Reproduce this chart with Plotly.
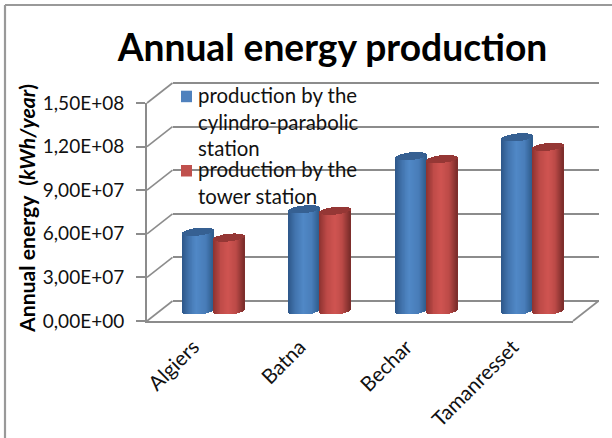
import plotly.graph_objects as go

# Chart data
cities = ["Algiers", "Batna", "Bechar", "Tamanresset"]
cylindro_parabolic = [5.45e7, 7.0e7, 1.065e8, 1.195e8]
tower = [5.05e7, 6.9e7, 1.045e8, 1.13e8]
tick_values = [0, 3e7, 6e7, 9e7, 1.2e8, 1.5e8]
tick_labels = ["0,00E+00", "3,00E+07", "6,00E+07", "9,00E+07", "1,20E+08", "1,50E+08"]
series_names = ["production by the<br>cylindro-parabolic<br>station",
                "production by the<br>tower station"]

W, H = 612, 438
FONT = "Lato"
GRID = "#8c8c8c"

# Pseudo-3D box, in pixels
X0, X1 = 147, 573      # front edge of the floor
Y0, Y1 = 321, 103      # value 0 and value max on the front plane
DX, DY = 25.5, -20     # depth of the box
VMAX = 1.5e8
PX = VMAX / (Y0 - Y1)  # value units per pixel
PAD = 3                # spare pixels that keep the end gridlines from being dropped


def xdom(a, b):
    return [a / W, b / W]


def ydom(bottom, top):
    return [1 - bottom / H, 1 - top / H]


def lerp_color(stops, t):
    for (t0, c0), (t1, c1) in zip(stops, stops[1:]):
        if t <= t1:
            f = (t - t0) / (t1 - t0)
            rgb = [round(c0[i] + (c1[i] - c0[i]) * f) for i in range(3)]
            return f"rgb({rgb[0]},{rgb[1]},{rgb[2]})"
    return f"rgb{stops[-1][1]}"


BLUE = [(-1, (44, 86, 136)), (-0.55, (66, 116, 174)), (-0.05, (80, 136, 198)),
        (0.55, (72, 124, 184)), (1, (46, 92, 140))]
RED = [(-1, (140, 50, 48)), (-0.5, (190, 74, 71)), (0, (207, 84, 81)),
       (0.5, (188, 74, 71)), (1, (122, 44, 42))]
BLUE_CAP = (54, 96, 146)
RED_CAP = (149, 55, 53)

BAR_W = 0.29           # cylinder width in category units
STRIPS = 32
ELLIPSE = 3.8 * PX     # half height of the end ellipses
TILT = 1.6 * PX        # the ellipses lean up to the right

fig = go.Figure()

# Empty traces keep the front and back axis pairs alive
fig.add_trace(go.Scatter(x=cities, y=[None] * 4, xaxis="x", yaxis="y", showlegend=False, hoverinfo="skip"))
fig.add_trace(go.Scatter(x=cities, y=[None] * 4, xaxis="x2", yaxis="y2", showlegend=False, hoverinfo="skip"))


def add_cylinders(values, start, stops, cap):
    """Build each cylinder from narrow vertical strips so it shades across its width."""
    step = BAR_W / STRIPS
    for i in range(STRIPS):
        t = -1 + 2 * (i + 0.5) / STRIPS
        rim = ELLIPSE * (1 - t * t) ** 0.5
        lean = TILT * t
        # body
        fig.add_trace(go.Bar(
            x=cities, y=list(values), base=[-rim + lean] * 4,
            width=step * 1.5, offset=start + i * step,
            marker=dict(color=lerp_color(stops, t), line_width=0),
            xaxis="x3", yaxis="y3", showlegend=False, hoverinfo="skip"))
    for i in range(STRIPS):
        t = -1 + 2 * (i + 0.5) / STRIPS
        rim = ELLIPSE * (1 - t * t) ** 0.5
        lean = TILT * t
        # top cap
        fig.add_trace(go.Bar(
            x=cities, y=[2 * rim] * 4, base=[v - rim + lean for v in values],
            width=step * 1.5, offset=start + i * step,
            marker=dict(color=f"rgb{cap}", line_width=0),
            xaxis="x3", yaxis="y3", showlegend=False, hoverinfo="skip"))


add_cylinders(cylindro_parabolic, -BAR_W, BLUE, BLUE_CAP)
add_cylinders(tower, 0, RED, RED_CAP)

# Side wall and floor edges
shapes = []
for v in tick_values:
    py = Y0 - v / PX
    shapes.append(dict(type="line", xref="paper", yref="paper",
                       x0=X0 / W, y0=1 - py / H, x1=(X0 + DX) / W, y1=1 - (py + DY) / H,
                       line=dict(color=GRID, width=1.6)))
shapes.append(dict(type="line", xref="paper", yref="paper",
                   x0=X1 / W, y0=1 - Y0 / H, x1=(X1 + DX) / W, y1=1 - (Y0 + DY) / H,
                   line=dict(color=GRID, width=1.6)))
# Top and left edges of the chart frame
FRAME = dict(color="#999999", width=2.2)
shapes.append(dict(type="line", xref="paper", yref="paper",
                   x0=5 / W, y0=1 - 5 / H, x1=1, y1=1 - 5 / H, line=FRAME))
shapes.append(dict(type="line", xref="paper", yref="paper",
                   x0=5 / W, y0=1 - 5 / H, x1=5 / W, y1=0, line=FRAME))
# Legend swatches
for top, color in ((90.7, "#4F81BD"), (165, "#C0504D")):
    shapes.append(dict(type="rect", xref="paper", yref="paper", layer="above",
                       x0=181 / W, x1=192 / W, y0=1 - (top + 11.5) / H, y1=1 - top / H,
                       fillcolor=color, line_width=0))

annotations = [dict(
    text="<b>Annual energy  (<i>kWh/year</i>)</b>", textangle=-90,
    xref="paper", yref="paper", x=27 / W, y=1 - 209 / H, showarrow=False,
    xanchor="center", yanchor="middle",
    font=dict(family=FONT, size=21.2, color="black"))]
for name, top in zip(series_names, (82, 156)):
    annotations.append(dict(
        text=name, align="left", xref="paper", yref="paper", x=197 / W, y=1 - top / H,
        xanchor="left", yanchor="top", showarrow=False, borderpad=0,
        font=dict(family=FONT, size=20.4, color="#111111")))

fig.update_layout(
    width=W, height=H, margin=dict(l=0, r=0, t=0, b=0), autosize=False,
    paper_bgcolor="white", plot_bgcolor="rgba(0,0,0,0)",
    barmode="overlay", bargap=0,
    title=dict(text="<b>Annual energy production</b>", x=332.5 / W, y=1 - 48 / H,
               xanchor="center", yanchor="middle",
               font=dict(family=FONT, size=37.2, color="black")),
    font=dict(family=FONT, color="#111111"),
    showlegend=False,
    # Front plane: tick labels and floor edge
    xaxis=dict(domain=xdom(X0, X1), anchor="y", range=[-0.5, 3.5], type="category",
               categoryorder="array", categoryarray=cities, automargin=False,
               showline=True, linecolor=GRID, linewidth=2, showgrid=False,
               ticks="", tickangle=-45, ticklabelstandoff=4, ticklabelshift=-7,
               tickfont=dict(family=FONT, size=20.5, color="#111111")),
    yaxis=dict(domain=ydom(Y0, Y1), anchor="x", range=[0, VMAX], automargin=False,
               tickvals=tick_values, ticktext=tick_labels,
               showline=True, linecolor=GRID, linewidth=2, showgrid=False, zeroline=False,
               ticks="outside", ticklen=9, tickcolor=GRID, tickwidth=1.6, ticklabelstandoff=8,
               tickfont=dict(family=FONT, size=19, color="#111111")),
    # Back wall: gridlines
    xaxis2=dict(domain=xdom(X0 + DX, X1 + DX), anchor="y2", range=[-0.5, 3.5], type="category",
                categoryorder="array", categoryarray=cities, automargin=False,
                visible=False),
    yaxis2=dict(domain=ydom(Y0 + DY + PAD, Y1 + DY - PAD), anchor="x2", automargin=False,
                range=[-PAD * PX, VMAX + PAD * PX],
                tickvals=tick_values, showticklabels=False, ticks="",
                showline=False, showgrid=True, gridcolor=GRID, gridwidth=1.8, zeroline=False),
    # Mid depth: cylinders
    xaxis3=dict(domain=xdom(X0 + DX / 2, X1 + DX / 2), anchor="y3", range=[-0.5, 3.5], type="category",
                categoryorder="array", categoryarray=cities, automargin=False,
                visible=False),
    yaxis3=dict(domain=ydom(Y0 + DY / 2 + PAD, Y1 + DY / 2), anchor="x3", automargin=False,
                range=[-PAD * PX, VMAX],
                visible=False),
    shapes=shapes,
    annotations=annotations,
)

fig.write_html("out.html")
